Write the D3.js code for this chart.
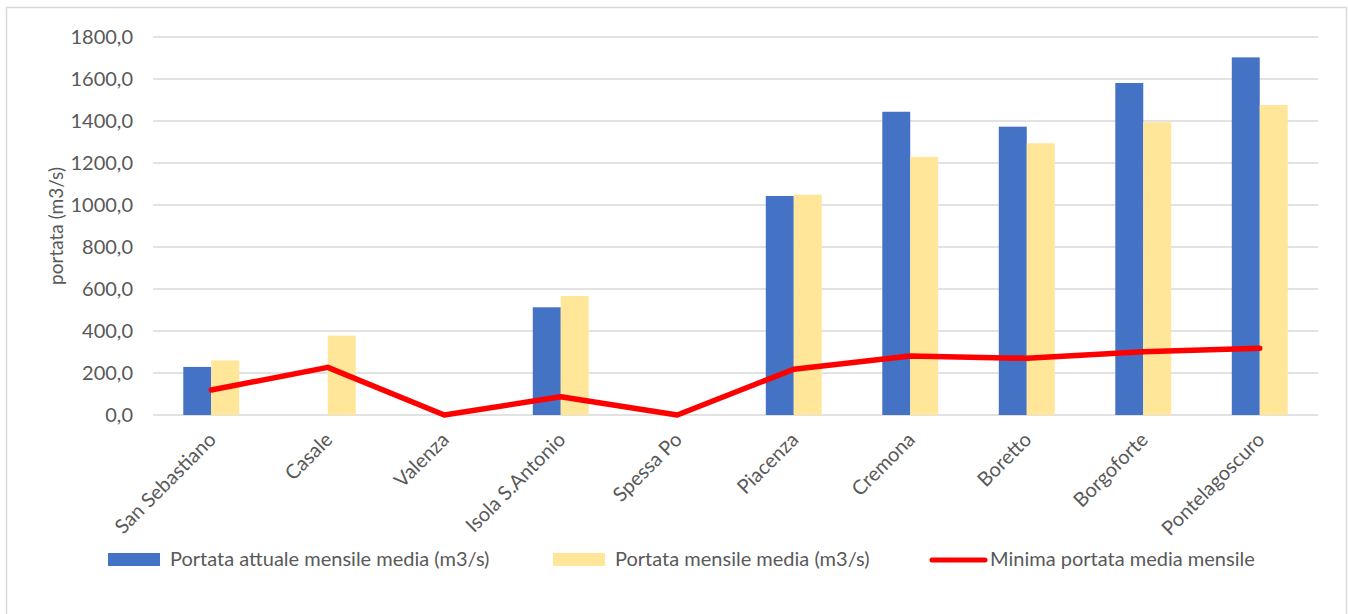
<!DOCTYPE html>
<html>
<head>
<meta charset="utf-8">
<script src="https://cdn.jsdelivr.net/npm/d3@7"></script>
<style>
  html, body { margin: 0; padding: 0; background: #fff; }
  svg { display: block; }
  text { font-family: "Lato", "Open Sans", sans-serif; fill: #595959; }
</style>
</head>
<body>
<svg id="chart" width="1348" height="614"></svg>
<script>
const categories = ["San Sebastiano", "Casale", "Valenza", "Isola S.Antonio", "Spessa Po",
  "Piacenza", "Cremona", "Boretto", "Borgoforte", "Pontelagoscuro"];
const portataAttuale = [229, 0, 0, 513, 0, 1043, 1444, 1373, 1581, 1703];
const portataMedia = [260, 378, 0, 567, 0, 1049, 1229, 1294, 1394, 1476];
const minimaMedia = [119, 227, 0, 87, 0, 218, 281, 270, 301, 318];
const yTicks = [0, 200, 400, 600, 800, 1000, 1200, 1400, 1600, 1800];
const seriesNames = ["Portata attuale mensile media (m3/s)", "Portata mensile media (m3/s)", "Minima portata media mensile"];
const yTitle = "portata (m3/s)";

const colors = { blue: "#4472C4", yellow: "#FFE699", red: "#FF0000", grid: "#D9D9D9" };
const FS = "20px";

const svg = d3.select("#chart");
const plot = { left: 153, right: 1318, top: 37, bottom: 415 };

// outer border
svg.append("rect").attr("x", 6.5).attr("y", 7.5).attr("width", 1340).attr("height", 640)
  .attr("fill", "none").attr("stroke", colors.grid).attr("stroke-width", 1.5);

const x = d3.scaleBand().domain(categories).range([plot.left, plot.right])
  .paddingInner(0.52).paddingOuter(0.26);
const xSub = d3.scaleBand().domain([0, 1]).range([0, x.bandwidth()]);
const y = d3.scaleLinear().domain([0, 1800]).range([plot.bottom, plot.top]);

// gridlines
svg.append("g").selectAll("line").data(yTicks).join("line")
  .attr("x1", plot.left).attr("x2", plot.right)
  .attr("y1", d => y(d)).attr("y2", d => y(d))
  .attr("stroke", colors.grid).attr("stroke-width", 1.5);

// y axis labels
const yAxis = d3.axisLeft(y).tickValues(yTicks).tickSize(0).tickPadding(0)
  .tickFormat(d => d3.format(".1f")(d).replace(".", ","));
const yg = svg.append("g").attr("transform", `translate(${plot.left - 20},0)`).call(yAxis);
yg.select(".domain").remove();
yg.selectAll("text").style("font-size", FS).style("fill", "#595959")
  .style("font-family", "Lato, 'Open Sans', sans-serif");

// y title
svg.append("text").attr("transform", `translate(63,226) rotate(-90)`)
  .attr("text-anchor", "middle").style("font-size", "19px").text(yTitle);

// bars
const groups = svg.append("g").selectAll("g").data(categories).join("g")
  .attr("transform", d => `translate(${x(d)},0)`);
groups.append("rect").attr("x", xSub(0)).attr("width", xSub.bandwidth())
  .attr("y", (d, i) => y(portataAttuale[i])).attr("height", (d, i) => y(0) - y(portataAttuale[i]))
  .attr("fill", colors.blue);
groups.append("rect").attr("x", xSub(1)).attr("width", xSub.bandwidth())
  .attr("y", (d, i) => y(portataMedia[i])).attr("height", (d, i) => y(0) - y(portataMedia[i]))
  .attr("fill", colors.yellow);

// line
const line = d3.line().x((d, i) => x(categories[i]) + x.bandwidth() / 2).y(d => y(d));
svg.append("path").datum(minimaMedia).attr("d", line)
  .attr("fill", "none").attr("stroke", colors.red).attr("stroke-width", 5.5)
  .attr("stroke-linejoin", "round").attr("stroke-linecap", "round");

// x labels
svg.append("g").selectAll("text").data(categories).join("text")
  .attr("transform", d => `translate(${x(d) + x.bandwidth() / 2 + 1},${plot.bottom + 21}) rotate(-45)`)
  .attr("text-anchor", "end").attr("dy", "0.35em").style("font-size", FS).text(d => d);

// legend
const legend = svg.append("g");
const legendItems = [
  { name: seriesNames[0], type: "rect", color: colors.blue, x: 108 },
  { name: seriesNames[1], type: "rect", color: colors.yellow, x: 553 },
  { name: seriesNames[2], type: "line", color: colors.red, x: 932 }
];
legendItems.forEach(it => {
  if (it.type === "rect") {
    legend.append("rect").attr("x", it.x).attr("y", 553).attr("width", 52).attr("height", 13).attr("fill", it.color);
    legend.append("text").attr("x", it.x + 62).attr("y", 566).style("font-size", FS).text(it.name);
  } else {
    legend.append("line").attr("x1", it.x).attr("x2", it.x + 53).attr("y1", 560).attr("y2", 560)
      .attr("stroke", it.color).attr("stroke-width", 5).attr("stroke-linecap", "round");
    legend.append("text").attr("x", it.x + 58).attr("y", 566).style("font-size", FS).text(it.name);
  }
});
</script>
</body>
</html>
